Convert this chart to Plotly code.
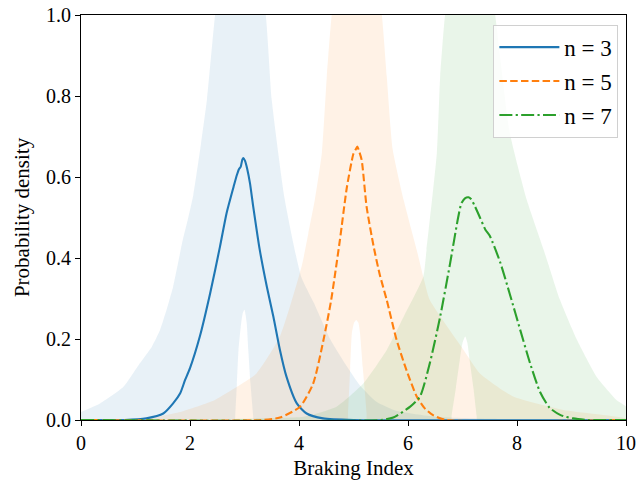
import plotly.graph_objects as go

# ---------------- data ----------------
series_names = ["n = 3", "n = 5", "n = 7"]
line_colors = ["#1f77b4", "#ff7f0e", "#2ca02c"]
fill_colors = ["rgba(31,119,180,0.1)", "rgba(255,127,14,0.1)", "rgba(44,160,44,0.1)"]

# density curves
n3_x = [0.0, 0.8, 1.2, 1.51, 1.69, 1.82, 1.91, 2.0, 2.18, 2.37, 2.55, 2.67, 2.80, 2.86, 2.90, 2.93,
        2.96, 2.98, 3.01, 3.05, 3.10, 3.16, 3.28, 3.41, 3.53, 3.65, 3.77, 3.96, 4.14, 4.44, 5.0, 10.0]
n3_y = [0.0, 0.0, 0.004, 0.016, 0.041, 0.066, 0.099, 0.128, 0.206, 0.313, 0.428, 0.51, 0.576, 0.605, 0.62, 0.625,
        0.643, 0.647, 0.64, 0.62, 0.585, 0.527, 0.42, 0.329, 0.255, 0.173, 0.107, 0.041, 0.016, 0.004, 0.0, 0.0]

n5_x = [0.0, 3.3, 3.65, 4.02, 4.26, 4.45, 4.59, 4.75, 4.88, 5.00, 5.04, 5.07, 5.10, 5.15, 5.24, 5.37, 5.48,
        5.61, 5.79, 5.98, 6.16, 6.30, 6.46, 6.7, 10.0]
n5_y = [0.0, 0.0, 0.006, 0.033, 0.09, 0.198, 0.296, 0.444, 0.576, 0.658, 0.668, 0.675, 0.665, 0.642, 0.527,
        0.428, 0.36, 0.296, 0.198, 0.12, 0.058, 0.03, 0.012, 0.0, 0.0]

n7_x = [0.0, 5.5, 5.73, 6.04, 6.22, 6.40, 6.59, 6.77, 6.92, 6.98, 7.05, 7.11, 7.16, 7.22, 7.32, 7.42,
        7.50, 7.69, 7.87, 8.06, 8.24, 8.42, 8.6, 8.8, 9.03, 9.3, 10.0]
n7_y = [0.0, 0.0, 0.006, 0.033, 0.058, 0.14, 0.255, 0.385, 0.50, 0.535, 0.548, 0.55, 0.545, 0.53, 0.50, 0.47,
        0.455, 0.39, 0.31, 0.222, 0.14, 0.07, 0.03, 0.012, 0.004, 0.0, 0.0]

# uncertainty bands: upper bound and lower bound
n3_up_x = [0.0, 0.35, 0.78, 1.08, 1.30, 1.45, 1.57, 1.69, 1.78, 1.86, 1.96, 2.06, 2.2, 2.31, 2.46, 2.6,
           2.9, 3.2, 3.39, 3.50, 3.74, 4.04, 4.27, 4.57, 4.88, 5.12, 5.42, 5.8, 6.5, 7.5, 10.0]
n3_up_y = [0.02, 0.041, 0.082, 0.14, 0.181, 0.222, 0.272, 0.329, 0.387, 0.44, 0.495, 0.555, 0.68, 0.79, 1.0, 1.15,
           1.3, 1.15, 1.0, 0.79, 0.543, 0.354, 0.29, 0.2, 0.132, 0.085, 0.045, 0.022, 0.008, 0.003, 0.0]
n3_lo_x = [0.0, 2.82, 2.83, 2.86, 2.89, 2.94, 2.97, 3.0, 3.04, 3.07, 3.11, 3.16, 3.17, 10.0]
n3_lo_y = [0.0, 0.0, 0.01, 0.09, 0.173, 0.24, 0.265, 0.272, 0.24, 0.173, 0.09, 0.01, 0.0, 0.0]

n5_up_x = [0.0, 1.2, 1.82, 2.45, 2.86, 3.22, 3.65, 4.05, 4.17, 4.29, 4.42, 4.51, 4.60, 4.8, 5.06, 5.3,
           5.52, 5.61, 5.72, 5.92, 6.16, 6.28, 6.40, 7.02, 7.32, 7.93, 8.85, 10.0]
n5_up_y = [0.002, 0.004, 0.02, 0.049, 0.082, 0.115, 0.206, 0.38, 0.46, 0.543, 0.66, 0.848, 1.0, 1.2, 1.35, 1.2,
           1.0, 0.848, 0.667, 0.543, 0.42, 0.354, 0.296, 0.173, 0.115, 0.058, 0.025, 0.004]
n5_lo_x = [0.0, 4.89, 4.90, 4.94, 4.97, 5.01, 5.05, 5.09, 5.12, 5.17, 5.21, 5.24, 5.25, 10.0]
n5_lo_y = [0.0, 0.0, 0.016, 0.13, 0.214, 0.24, 0.247, 0.24, 0.214, 0.13, 0.066, 0.016, 0.0, 0.0]

n7_up_x = [0.0, 2.0, 3.2, 4.08, 4.69, 5.18, 5.61, 5.92, 6.28, 6.34, 6.53, 6.59, 6.68, 6.9, 7.1, 7.4,
           7.6, 7.87, 8.18, 8.49, 8.79, 9.1, 9.46, 9.83, 10.0]
n7_up_y = [0.0, 0.0015, 0.004, 0.008, 0.033, 0.09, 0.173, 0.255, 0.354, 0.42, 0.66, 0.848, 1.0, 1.2, 1.3, 1.2,
           1.0, 0.708, 0.543, 0.42, 0.296, 0.198, 0.107, 0.049, 0.033]
n7_lo_x = [0.0, 6.79, 6.80, 6.88, 6.95, 7.0, 7.05, 7.09, 7.13, 7.2, 7.26, 7.27, 10.0]
n7_lo_y = [0.0, 0.0, 0.01, 0.08, 0.148, 0.19, 0.206, 0.19, 0.148, 0.08, 0.01, 0.0, 0.0]

x_ticks = [0, 2, 4, 6, 8, 10]
y_ticks = [0.0, 0.2, 0.4, 0.6, 0.8, 1.0]
y_tick_labels = ["0.0", "0.2", "0.4", "0.6", "0.8", "1.0"]

curves = [(n3_x, n3_y), (n5_x, n5_y), (n7_x, n7_y)]
bands = [(n3_up_x, n3_up_y, n3_lo_x, n3_lo_y),
         (n5_up_x, n5_up_y, n5_lo_x, n5_lo_y),
         (n7_up_x, n7_up_y, n7_lo_x, n7_lo_y)]
dashes = ["solid", "7.5px,3.3px", "13px,3.3px,2.2px,3.3px"]

# ---------------- figure ----------------
FONT = "Liberation Serif"
TICK_FS = 20
TITLE_FS = 21
fig = go.Figure()

for (ux, uy, lx, ly), fc in zip(bands, fill_colors):
    px = list(ux) + list(lx)[::-1]
    py = list(uy) + list(ly)[::-1]
    fig.add_trace(go.Scatter(x=px, y=py, mode="lines", fill="toself", fillcolor=fc,
                             line=dict(width=0, shape="spline", smoothing=0.5),
                             hoverinfo="skip", showlegend=False))

for i, ((cx, cy), name, col, dash) in enumerate(zip(curves, series_names, line_colors, dashes)):
    fig.add_trace(go.Scatter(x=cx, y=cy, mode="lines", name=name, legendgroup=f"g{i}",
                             line=dict(color=col, width=2.1, dash=dash, shape="spline", smoothing=0.6)))

fig.update_layout(
    width=638, height=480,
    margin=dict(l=81, r=12, t=15, b=60, autoexpand=False),
    paper_bgcolor="white", plot_bgcolor="white",
    font=dict(family=FONT, size=TICK_FS, color="black"),
    showlegend=True,
    legend=dict(x=0.986, y=0.976, xanchor="right", yanchor="top",
                bgcolor="rgba(255,255,255,0.8)", bordercolor="#d0d0d0", borderwidth=1,
                font=dict(family=FONT, size=23), tracegroupgap=1, itemwidth=60),
)
fig.update_xaxes(range=[0, 10], tickvals=x_ticks, ticks="outside", ticklen=5, tickwidth=1.1,
                 tickcolor="black", showline=True, linecolor="black", linewidth=1.1, mirror=True,
                 showgrid=False, zeroline=False, automargin=False,
                 tickfont=dict(family=FONT, size=TICK_FS),
                 title=dict(text="Braking Index", font=dict(family=FONT, size=TITLE_FS), standoff=10))
fig.update_yaxes(range=[0, 1], tickvals=y_ticks, ticktext=y_tick_labels, ticks="outside", ticklen=5,
                 tickwidth=1.1, tickcolor="black", showline=True, linecolor="black", linewidth=1.1,
                 mirror=True, showgrid=False, zeroline=False, automargin=False,
                 tickfont=dict(family=FONT, size=TICK_FS),
                 title=dict(text="Probability density", font=dict(family=FONT, size=TITLE_FS), standoff=10))

fig.write_html("out.html")
